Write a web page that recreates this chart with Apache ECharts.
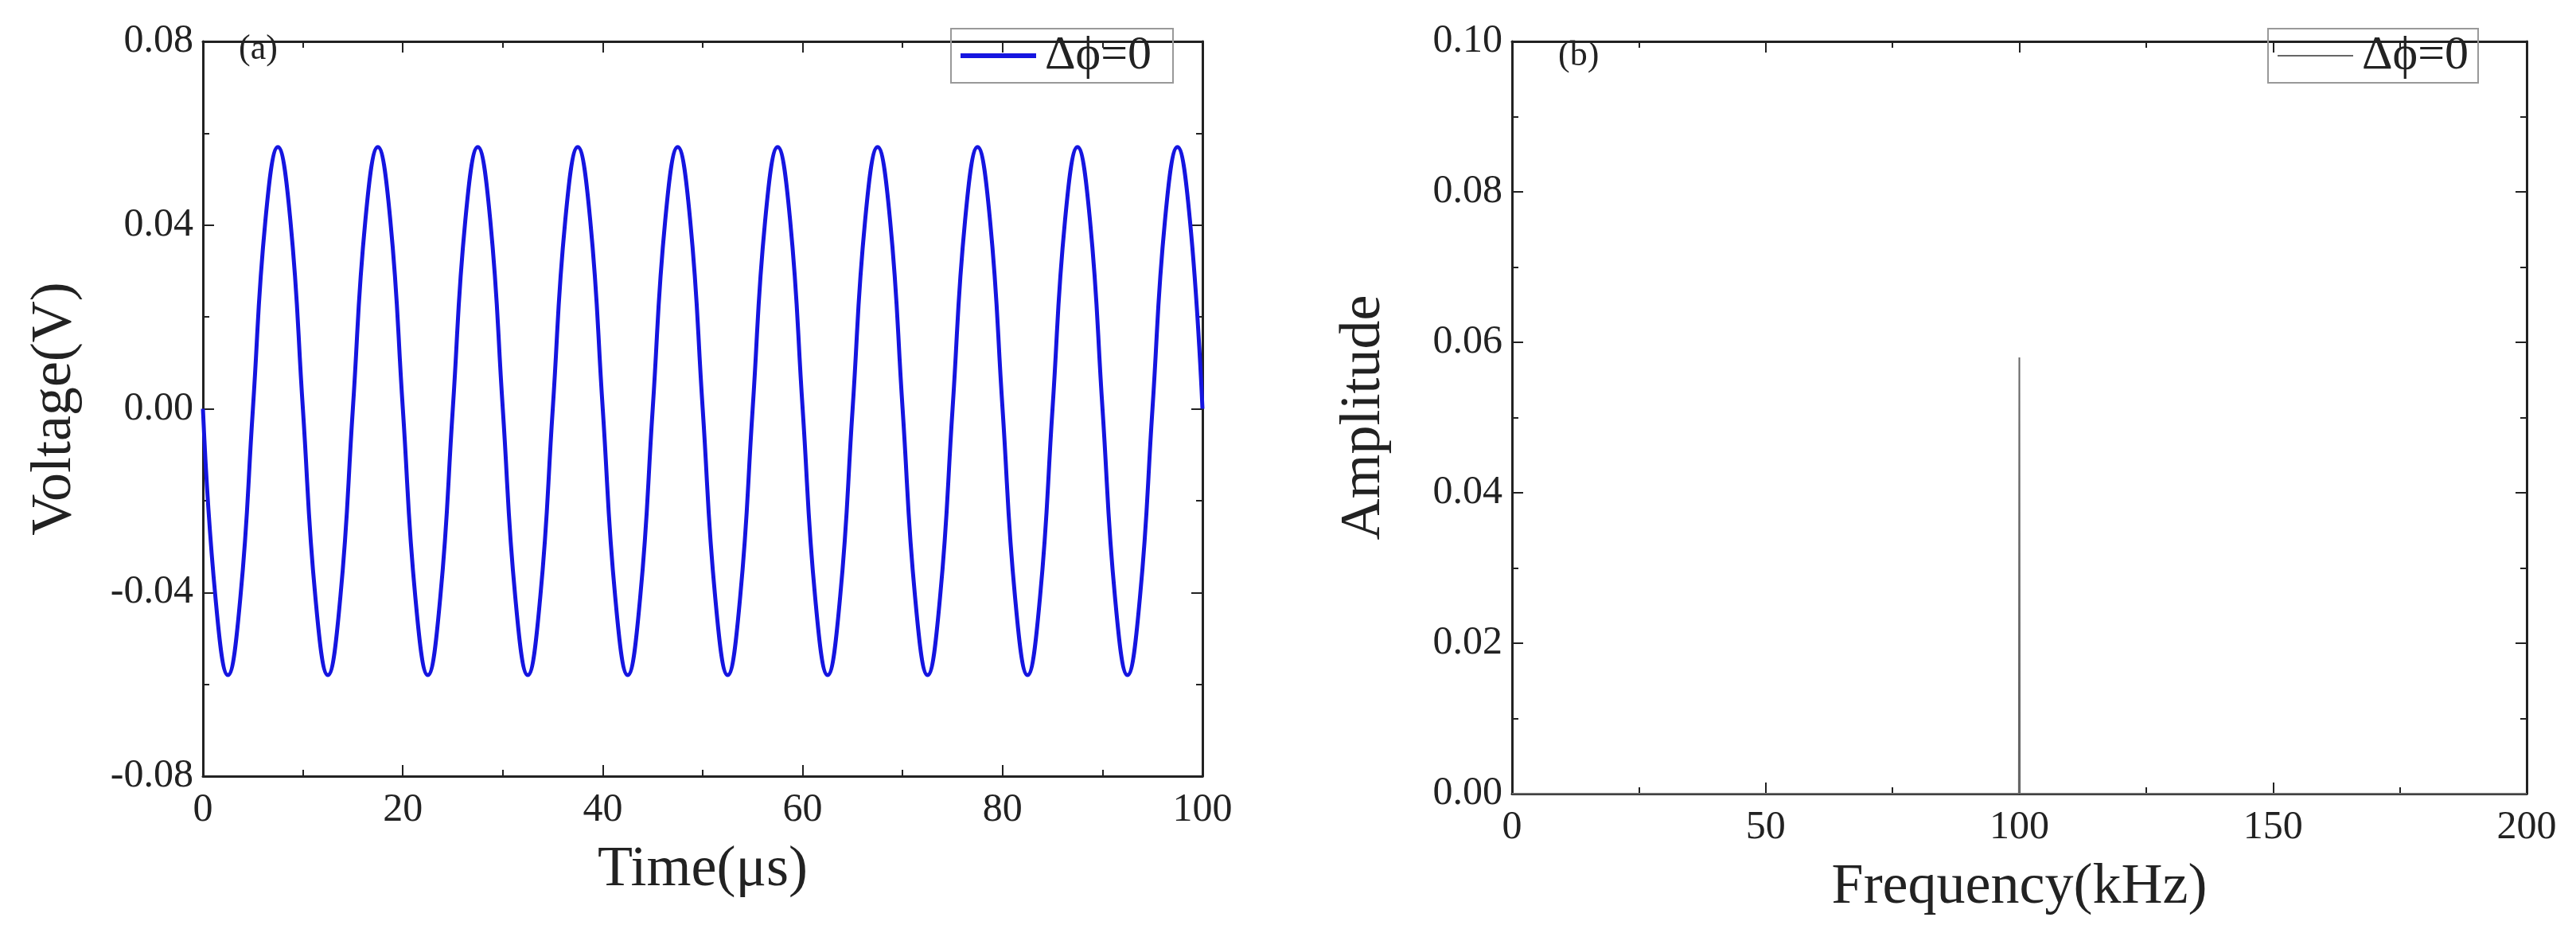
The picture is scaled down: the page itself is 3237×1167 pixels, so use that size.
<!DOCTYPE html>
<html>
<head>
<meta charset="utf-8" />
<title>Voltage and spectrum</title>
<script src="https://cdn.jsdelivr.net/npm/echarts@6/dist/echarts.min.js"></script>
<style>
  html, body { margin: 0; padding: 0; background: #fff; }
  #chart { width: 3237px; height: 1167px; }
</style>
</head>
<body>
<div id="chart"></div>
<script>
// (a) time signal, read every 1.25 us
var timeUs = [0,1.25,2.5,3.75,5,6.25,7.5,8.75,10,11.25,12.5,13.75,15,16.25,17.5,18.75,20,21.25,22.5,23.75,25,26.25,27.5,28.75,30,31.25,32.5,33.75,35,36.25,37.5,38.75,40,41.25,42.5,43.75,45,46.25,47.5,48.75,50,51.25,52.5,53.75,55,56.25,57.5,58.75,60,61.25,62.5,63.75,65,66.25,67.5,68.75,70,71.25,72.5,73.75,75,76.25,77.5,78.75,80,81.25,82.5,83.75,85,86.25,87.5,88.75,90,91.25,92.5,93.75,95,96.25,97.5,98.75,100];
var voltage = [0,-0.041,-0.058,-0.041,0,0.041,0.057,0.041,
  0,-0.041,-0.058,-0.041,0,0.041,0.057,0.041,
  0,-0.041,-0.058,-0.041,0,0.041,0.057,0.041,
  0,-0.041,-0.058,-0.041,0,0.041,0.057,0.041,
  0,-0.041,-0.058,-0.041,0,0.041,0.057,0.041,
  0,-0.041,-0.058,-0.041,0,0.041,0.057,0.041,
  0,-0.041,-0.058,-0.041,0,0.041,0.057,0.041,
  0,-0.041,-0.058,-0.041,0,0.041,0.057,0.041,
  0,-0.041,-0.058,-0.041,0,0.041,0.057,0.041,
  0,-0.041,-0.058,-0.041,0,0.041,0.057,0.041,
  0];
// (b) spectrum
var freqKHz = [0, 99.9, 100, 100.1, 200];
var amplitude = [0, 0, 0.058, 0, 0];

var font = "Liberation Serif";
var legendName = "Δϕ=0";

function pairs(xs, ys) {
  var out = [];
  for (var i = 0; i < xs.length; i++) out.push([xs[i], ys[i]]);
  return out;
}

function xAxisFor(idx, min, max, interval, name, show) {
  return {
    type: "value", gridIndex: idx, min: min, max: max, interval: interval,
    position: show ? "bottom" : "top",
    name: show ? name : "", nameLocation: "middle", nameGap: 82,
    nameTextStyle: { fontFamily: font, fontSize: 72, color: "#222" },
    axisLine: { show: true, onZero: false, lineStyle: { color: "#222", width: 3 } },
    axisTick: { show: true, inside: true, length: 14, lineStyle: { color: "#222", width: 2 } },
    minorTick: { show: true, splitNumber: 2, length: 8, lineStyle: { color: "#222", width: 2 } },
    axisLabel: { show: show, fontFamily: font, fontSize: 50, color: "#222", margin: 18 },
    splitLine: { show: false }
  };
}

function yAxisFor(idx, min, max, interval, name, show, dec) {
  return {
    type: "value", gridIndex: idx, min: min, max: max, interval: interval,
    position: show ? "left" : "right",
    name: show ? name : "", nameLocation: "middle", nameGap: 150,
    nameTextStyle: { fontFamily: font, fontSize: 72, color: "#222" },
    axisLine: { show: true, onZero: false, lineStyle: { color: "#222", width: 3 } },
    axisTick: { show: true, inside: true, length: 14, lineStyle: { color: "#222", width: 2 } },
    minorTick: { show: true, splitNumber: 2, length: 8, lineStyle: { color: "#222", width: 2 } },
    axisLabel: { show: show, fontFamily: font, fontSize: 50, color: "#222", margin: 12,
      formatter: function (v) { return v.toFixed(dec); } },
    splitLine: { show: false }
  };
}

var chart = echarts.init(document.getElementById("chart"));
chart.setOption({
  backgroundColor: "#fff",
  animation: false,
  grid: [
    { left: 255, top: 52, width: 1256, height: 923 },
    { left: 1900, top: 52, width: 1275, height: 945 }
  ],
  xAxis: [
    xAxisFor(0, 0, 100, 20, "Time(μs)", true),
    xAxisFor(0, 0, 100, 20, "", false),
    xAxisFor(1, 0, 200, 50, "Frequency(kHz)", true),
    xAxisFor(1, 0, 200, 50, "", false)
  ],
  yAxis: [
    yAxisFor(0, -0.08, 0.08, 0.04, "Voltage(V)", true, 2),
    yAxisFor(0, -0.08, 0.08, 0.04, "", false, 2),
    yAxisFor(1, 0, 0.1, 0.02, "Amplitude", true, 2),
    yAxisFor(1, 0, 0.1, 0.02, "", false, 2)
  ],
  legend: [
    {
      data: [legendName + " "],
      left: 1195, top: 36, padding: [4, 12],
      itemWidth: 95, itemHeight: 6, icon: "rect",
      borderColor: "#999", borderWidth: 2,
      textStyle: { fontFamily: font, fontSize: 60, color: "#222", padding: [0, 0, 0, 6] }
    },
    {
      data: [legendName], left: 2850, top: 36, padding: [4, 12],
      itemWidth: 95, itemHeight: 2, icon: "rect",
      borderColor: "#999", borderWidth: 2,
      textStyle: { fontFamily: font, fontSize: 60, color: "#222", padding: [0, 0, 0, 6] }
    }
  ],
  graphic: [
    { type: "text", left: 300, top: 40, style: { text: "(a)", font: "44px " + font, fill: "#222" } },
    { type: "text", left: 1958, top: 48, style: { text: "(b)", font: "44px " + font, fill: "#222" } }
  ],
  series: [
    {
      name: legendName + " ", type: "line", xAxisIndex: 0, yAxisIndex: 0,
      data: pairs(timeUs, voltage), smooth: 0.45, showSymbol: false,
      lineStyle: { color: "#1515e0", width: 5 }, itemStyle: { color: "#1515e0" }
    },
    {
      name: legendName, type: "line", xAxisIndex: 2, yAxisIndex: 2,
      data: pairs(freqKHz, amplitude), showSymbol: false,
      lineStyle: { color: "#666", width: 2 }, itemStyle: { color: "#666" }
    }
  ]
});
</script>
</body>
</html>
